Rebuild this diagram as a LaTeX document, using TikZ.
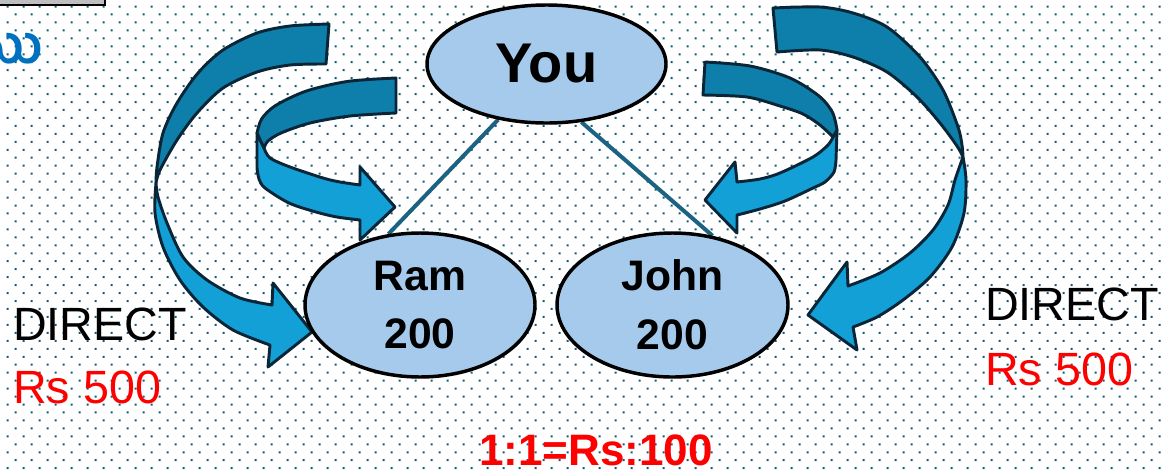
\documentclass[tikz,border=0pt]{standalone}
\usepackage{fontspec}
\setmainfont{Liberation Sans}
\newfontfamily\te[Script=Telugu]{Hind Guntur}
\usetikzlibrary{shapes.geometric,backgrounds}
\definecolor{dotc}{RGB}{20,90,120}
\definecolor{bandD}{RGB}{14,127,170}
\definecolor{bandL}{RGB}{18,160,215}
\definecolor{edgec}{RGB}{8,38,55}
\definecolor{ellf}{RGB}{166,202,236}
\definecolor{linkc}{RGB}{28,98,130}
\definecolor{teblue}{RGB}{0,112,192}
\definecolor{barg}{RGB}{190,190,190}
\begin{document}
\begin{tikzpicture}[x=0.75pt,y=-0.75pt,
  band/.style={draw=edgec, line width=2.2pt, line join=round},
  ell/.style={ellipse, draw=black, line width=2.6pt, fill=ellf, inner sep=0pt, align=center, font=\bfseries\fontsize{32}{44}\selectfont},
  link/.style={draw=linkc, line width=3pt},
  lbl/.style={anchor=base west, inner sep=0pt, font=\fontsize{35}{40}\selectfont}]
\useasboundingbox (0,0) rectangle (1162,472);
\begin{pgfonlayer}{background}
\fill[white] (0,0) rectangle (1162,472);
\foreach \j in {0,...,59}{
  \pgfmathsetmacro\yy{6.5+7.96*\j}
  \pgfmathsetmacro\xo{7.5+8*mod(\j,2)}
  \fill[dotc] \foreach \i in {0,...,72}{(\xo+16*\i-1,\yy-1) rectangle ++(2,2)};
}
\end{pgfonlayer}

% top-left bar and Telugu fragment
\draw[line width=1.5pt, fill=barg] (-5,-5) rectangle (105,5);
\node[anchor=base east, inner sep=0pt, text=teblue, font=\te\bfseries\fontsize{40}{46}\selectfont] (tel) at (43,63) {ము};

% left outer arrow
\draw[band, fill=bandL] plot[smooth] coordinates {(156,183)(155,213)(163,247)(180,280)(203,307)(233,330)(270,345)}
  -- (268,367) -- (312,332) -- (273,283) -- (272,305)
  -- plot[smooth] coordinates {(272,305)(240,298)(207,280)(183,257)(167,223)(158,197)(156,183)} -- cycle;
\draw[band, fill=bandD] plot[smooth] coordinates {(329,24)(290,26)(257,33)(223,50)(198,73)(177,103)(163,133)(157,167)(156,183)}
  -- plot[smooth] coordinates {(156,183)(160,170)(177,140)(197,113)(223,88)(257,72)(290,65)(326,64)} -- cycle;

% left inner arrow
\draw[band, fill=bandL] (257,133) -- plot[smooth] coordinates {(257,168)(259,179)(265,188)(289,203)(316,212)(337,217)(360,220)}
  -- (360,240) -- (395,207) -- (360,167)
  -- plot[smooth] coordinates {(360,185)(340,182)(323,178)(290,167)(270,158)(264,148)} -- cycle;
\draw[band, fill=bandD] plot[smooth] coordinates {(396,78)(348.5,81.3)(306.7,90.9)(275.6,105.5)(261.7,118.8)(257,133)}
  -- plot[smooth] coordinates {(264,148)(268,141)(281,133)(310,123)(350,116)(396,113)} -- cycle;

% right inner arrow
\draw[band, fill=bandL] (837,130) -- plot[smooth] coordinates {(836,160)(834,172)(825,182)(813,188)(785,201)(760,209)(737,215)}
  -- (737,233) -- (705,200) -- (735,162)
  -- plot[smooth] coordinates {(737,182)(760,179)(780,173)(813,157)(828,145)(833,137)} -- cycle;
\draw[band, fill=bandD] plot[smooth] coordinates {(705,62)(750,66)(790,78)(819,96)(832.5,112.4)(837,130)}
  -- plot[smooth] coordinates {(833,137)(820,125)(803,114)(780,106)(747,97)(703,95)} -- cycle;

% right outer arrow
\draw[band, fill=bandL] plot[smooth] coordinates {(963,157)(966,180)(964,213)(952,247)(930,277)(903,300)(877,317)(853,327)}
  -- (857,350) -- (808,315) -- (847,262) -- (848,286)
  -- plot[smooth] coordinates {(848,286)(880,273)(910,253)(933,230)(948,205)(955,180)(963,157)} -- cycle;
\draw[band, fill=bandD] plot[smooth] coordinates {(773,8)(820,7)(853,13)(887,27)(920,57)(943,90)(958,127)(962,145)(963,157)}
  -- plot[smooth] coordinates {(963,157)(957,146)(940,123)(917,97)(887,72)(853,57)(820,50)(777,52)} -- cycle;

% ellipses
\node[ell, minimum width=239*0.75pt, minimum height=118*0.75pt, font=\bfseries\fontsize{42}{48}\selectfont] (You) at (546.5,64) {You};
\node[ell, minimum width=230*0.75pt, minimum height=144*0.75pt] (Ram) at (420,305) {Ram\\200};
\node[ell, minimum width=231*0.75pt, minimum height=144*0.75pt] (John) at (672.5,305) {John\\200};

\begin{pgfonlayer}{background}
\draw[link] (You.229) -- (Ram.114.6);
\draw[link] (You.301) -- (John.60.4);
\end{pgfonlayer}

% labels
\node[lbl] (dl) at (13,340) {DIRECT};
\node[lbl, text=red] (rl) at (13,403) {Rs 500};
\node[lbl] (dr) at (985,320) {DIRECT};
\node[lbl, text=red] (rr) at (985,385) {Rs 500};
\node[anchor=base, inner sep=0pt, text=red, font=\bfseries\fontsize{33}{40}\selectfont] (ratio) at (596,465) {1:1=Rs:100};
\end{tikzpicture}
\end{document}
